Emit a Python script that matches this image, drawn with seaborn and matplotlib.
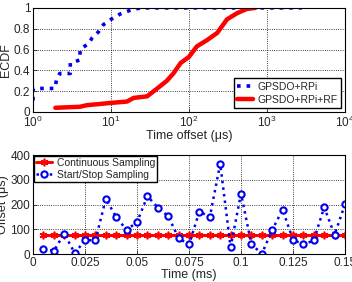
import numpy as np
import pandas as pd
import matplotlib.pyplot as plt
import seaborn as sns

# ECDF curves (top)
rpi_x = [1, 1, 1.9, 2.0, 2.2, 3.0, 3.0, 4.0, 4.0, 5.2, 5.7, 6.9, 8, 10, 13, 18, 24, 2800]
rpi_y = [0.11, 0.226, 0.226, 0.31, 0.37, 0.37, 0.47, 0.5, 0.6, 0.66, 0.71, 0.77, 0.84,
         0.89, 0.94, 0.98, 1.0, 1.0]
rf_x = [1.93, 4, 4.9, 10, 16, 19.5, 29, 39, 52, 63, 78, 100, 126, 170, 230, 307, 415, 550, 710]
rf_y = [0.04, 0.05, 0.065, 0.087, 0.1, 0.135, 0.15, 0.225, 0.3, 0.37, 0.47, 0.53, 0.63,
        0.69, 0.76, 0.89, 0.95, 0.99, 1.0]

# offset vs time (bottom)
t_ms = [0.005, 0.01, 0.015, 0.02, 0.025, 0.03, 0.035, 0.04, 0.045, 0.05,
        0.055, 0.06, 0.065, 0.07, 0.075, 0.08, 0.085, 0.09, 0.095, 0.1,
        0.105, 0.11, 0.115, 0.12, 0.125, 0.13, 0.135, 0.14, 0.145, 0.15]
startstop = [20, 13, 83, 4, 56, 56, 224, 148, 98, 129,
             234, 188, 153, 64, 39, 172, 150, 365, 28, 244,
             40, 1, 97, 180, 58, 39, 55, 189, 78, 201]
continuous = [76] * len(t_ms)

sns.set_theme(style="ticks")
plt.rcParams['font.family'] = ['Liberation Sans', 'DejaVu Sans']
plt.rcParams['font.size'] = 8.5
plt.rcParams['axes.labelsize'] = 9
plt.rcParams['mathtext.fontset'] = 'custom'
plt.rcParams['mathtext.rm'] = 'Liberation Sans'

fig = plt.figure(figsize=(3.52, 2.82), dpi=100)
ax1 = fig.add_axes([0.094, 0.603, 0.886, 0.369])
ax2 = fig.add_axes([0.094, 0.099, 0.886, 0.351])

ax1.set_xscale('log')
sns.lineplot(x=rpi_x, y=rpi_y, ax=ax1, sort=False, estimator=None, color='#0000ee',
             linestyle=':', linewidth=2.6, label='GPSDO+RPi')
sns.lineplot(x=rf_x, y=rf_y, ax=ax1, sort=False, estimator=None, color='#ff0000',
             linewidth=3.2, label='GPSDO+RPi+RF')
ax1.set_xlim(1, 1e4)
ax1.set_ylim(0, 1)
ax1.set_yticks([0, 0.2, 0.4, 0.6, 0.8, 1], labels=['0', '0.2', '0.4', '0.6', '0.8', '1'])
ax1.set_xlabel('Time offset (μs)', labelpad=0)
ax1.set_ylabel('ECDF', labelpad=1)
ax1.legend(loc='lower right', fontsize=7.5, frameon=True, fancybox=False,
           edgecolor='black', framealpha=1, borderpad=0.3, handlelength=1.6,
           handletextpad=0.4, labelspacing=0.3, borderaxespad=0.4)

df = pd.DataFrame(dict(t=t_ms, cont=continuous, ss=startstop))
sns.lineplot(data=df, x='t', y='cont', ax=ax2, color='#ff0000', linewidth=2.2,
             marker=(6, 2, 0), markersize=5.5, markeredgewidth=1.2,
             markeredgecolor='#ff0000', label='Continuous Sampling')
sns.lineplot(data=df, x='t', y='ss', ax=ax2, color='#0000ee', linestyle=':',
             linewidth=1.8, marker='o', markersize=4.5, markerfacecolor='white',
             markeredgecolor='#0000ee', markeredgewidth=1.5, label='Start/Stop Sampling')
ax2.set_xlim(0, 0.15)
ax2.set_ylim(0, 400)
ax2.set_xticks([0, 0.025, 0.05, 0.075, 0.1, 0.125, 0.15],
               labels=['0', '0.025', '0.05', '0.075', '0.1', '0.125', '0.15'])
ax2.set_yticks([0, 100, 200, 300, 400])
ax2.set_xlabel('Time (ms)', labelpad=0)
ax2.set_ylabel('Offset (μs)', labelpad=1)
ax2.legend(loc='upper left', fontsize=7.5, frameon=True, fancybox=False,
           edgecolor='black', framealpha=1, borderpad=0.2, handlelength=1.6,
           handletextpad=0.4, labelspacing=0.2, borderaxespad=0.05)

for ax in (ax1, ax2):
    ax.grid(True, linestyle=':', color='black', linewidth=0.6)
    ax.grid(False, which='minor')
    ax.tick_params(direction='in', length=3, width=0.6, pad=2, labelsize=8.5)
    ax.tick_params(which='minor', length=0)
    for s in ax.spines.values():
        s.set_visible(True)
        s.set_linewidth(0.8)
        s.set_color('black')

fig.savefig('out.png', dpi=100)
